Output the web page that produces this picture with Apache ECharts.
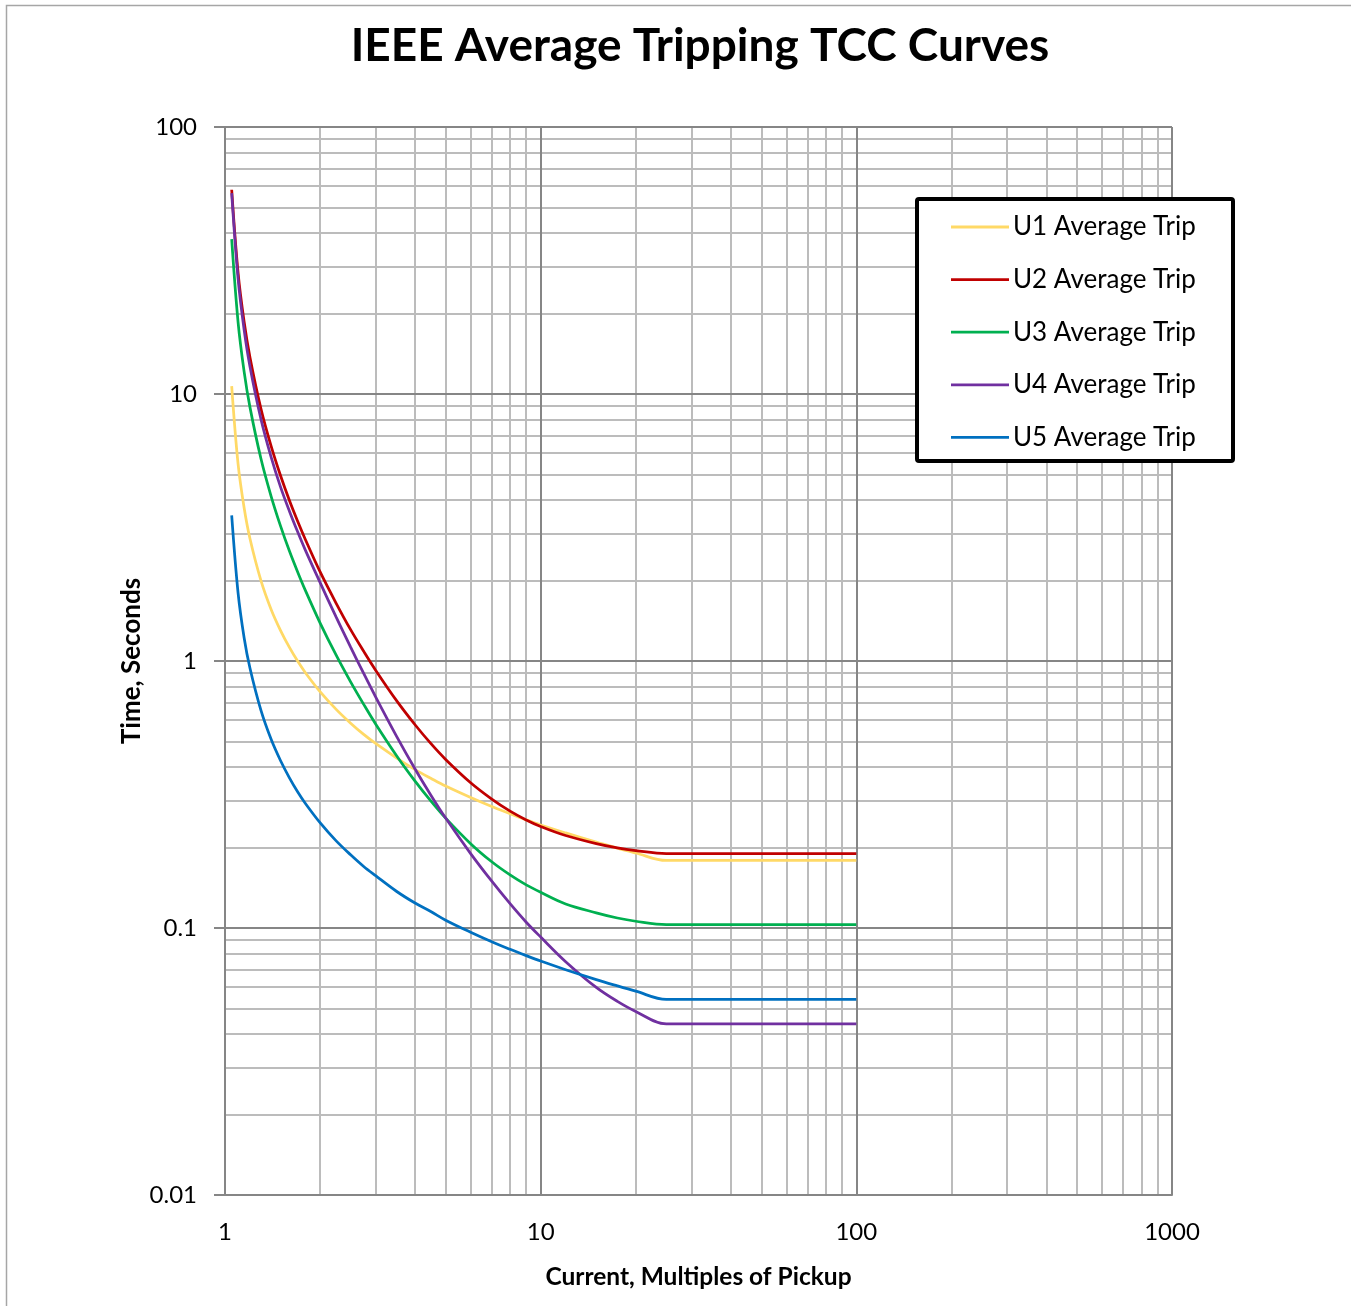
<!DOCTYPE html>
<html>
<head>
<meta charset="utf-8">
<script src="https://cdn.jsdelivr.net/npm/echarts@6/dist/echarts.min.js"></script>
<style>
  html, body { margin: 0; padding: 0; background: #fff; }
  #chart { width: 1351px; height: 1306px; }
</style>
</head>
<body>
<div id="chart"></div>
<script>
// Current, multiples of pickup
var multiples = [1.05, 1.1, 1.15, 1.2, 1.3, 1.4, 1.5, 1.6, 1.7, 1.8, 2, 2.25, 2.5, 2.75, 3, 3.5, 4, 4.5, 5, 6, 7, 8, 9, 10, 12, 15, 17.5, 20, 25, 100];
// Average trip time, seconds
var u1 = [10.7, 5.47, 3.74, 2.87, 2.00, 1.56, 1.30, 1.124, 0.997, 0.902, 0.768, 0.659, 0.585, 0.531, 0.491, 0.433, 0.392, 0.363, 0.340, 0.308, 0.285, 0.268, 0.254, 0.243, 0.227, 0.210, 0.199, 0.191, 0.179, 0.179];
var u2 = [58.2, 28.5, 18.6, 13.7, 8.80, 6.38, 4.94, 3.99, 3.33, 2.84, 2.16, 1.645, 1.31, 1.087, 0.924, 0.709, 0.577, 0.489, 0.428, 0.350, 0.304, 0.274, 0.254, 0.240, 0.222, 0.207, 0.1995, 0.195, 0.190, 0.190];
var u3 = [38.0, 18.6, 12.1, 8.91, 5.72, 4.14, 3.20, 2.58, 2.15, 1.83, 1.39, 1.051, 0.835, 0.688, 0.581, 0.441, 0.355, 0.298, 0.258, 0.207, 0.177, 0.158, 0.145, 0.136, 0.123, 0.114, 0.109, 0.106, 0.103, 0.103];
var u4 = [56.5, 27.06, 17.36, 12.66, 8.05, 5.80, 4.48, 3.64, 3.04, 2.59, 1.97, 1.459, 1.127, 0.898, 0.734, 0.521, 0.394, 0.313, 0.258, 0.190, 0.1497, 0.1233, 0.1051, 0.0925, 0.0748, 0.0599, 0.0531, 0.0487, 0.0437, 0.0437];
var u5 = [3.51, 1.80, 1.22, 0.939, 0.653, 0.509, 0.423, 0.365, 0.323, 0.292, 0.248, 0.212, 0.188, 0.170, 0.157, 0.137, 0.124, 0.115, 0.107, 0.0964, 0.0888, 0.0832, 0.0788, 0.0752, 0.0698, 0.0641, 0.0607, 0.058, 0.054, 0.054];

var seriesNames = ['U1 Average Trip', 'U2 Average Trip', 'U3 Average Trip', 'U4 Average Trip', 'U5 Average Trip'];
var seriesColors = ['#FFD966', '#C00000', '#00B050', '#7030A0', '#0070C0'];

// Axis ticks / gridlines
var xTickLabels = ['1', '10', '100', '1000'];
var yTickLabels = ['0.01', '0.1', '1', '10', '100'];
var xMajor = [1, 10, 100, 1000];
var yMajor = [0.01, 0.1, 1, 10, 100];
var xMinor = [2, 3, 4, 5, 6, 7, 8, 9, 20, 30, 40, 50, 60, 70, 80, 90, 200, 300, 400, 500, 600, 700, 800, 900];
var yMinor = [0.02, 0.03, 0.04, 0.05, 0.06, 0.07, 0.08, 0.09, 0.2, 0.3, 0.4, 0.5, 0.6, 0.7, 0.8, 0.9, 2, 3, 4, 5, 6, 7, 8, 9, 20, 30, 40, 50, 60, 70, 80, 90];

var allCurves = [u1, u2, u3, u4, u5];

function labelFor(v, values, labels) {
  for (var i = 0; i < values.length; i++) {
    if (Math.abs(Math.log10(v) - Math.log10(values[i])) < 1e-6) return labels[i];
  }
  return '';
}

function gridSeries(name, xs, ys, color, width, z) {
  var d = [];
  xs.forEach(function (v) { d.push({ xAxis: v }); });
  ys.forEach(function (v) { d.push({ yAxis: v }); });
  return {
    name: name, type: 'line', data: [], z: z, silent: true,
    markLine: {
      silent: true, symbol: ['none', 'none'], animation: false,
      label: { show: false },
      lineStyle: { color: color, width: width, type: 'solid' },
      emphasis: { disabled: true },
      data: d
    }
  };
}

var series = [
  gridSeries('minorGrid', xMinor, yMinor, '#bcbcbc', 2, 1),
  gridSeries('majorGrid', xMajor, yMajor, '#868686', 2, 2)
];
allCurves.forEach(function (arr, i) {
  series.push({
    name: seriesNames[i],
    type: 'line',
    symbol: 'none',
    showSymbol: false,
    z: 5,
    smooth: 0.35,
    animation: false,
    color: seriesColors[i],
    lineStyle: { color: seriesColors[i], width: 2.75 },
    data: multiples.map(function (m, j) { return [m, arr[j]]; })
  });
});

var FONT = 'Lato, "Open Sans", sans-serif';

// Legend box (graphic): frame, key samples, and labels as separate top-level elements
var LEG_X = 917, LEG_Y = 199, LEG_W = 316, LEG_H = 262, LEG_ROW0 = 28, LEG_ROW = 52.6;
var graphics = [{
  type: 'rect', silent: true, z: -10,
  shape: { x: 6.5, y: 5.5, width: 1500, height: 1500 },
  style: { fill: 'none', stroke: '#a6a6a6', lineWidth: 1.5 }
}, {
  type: 'rect', silent: true, z: 50,
  x: LEG_X, y: LEG_Y,
  shape: { x: 0, y: 0, width: LEG_W, height: LEG_H, r: 2 },
  style: { fill: '#fff', stroke: '#000', lineWidth: 4 }
}];
seriesNames.forEach(function (name, i) {
  var yc = LEG_Y + LEG_ROW0 + i * LEG_ROW;
  graphics.push({
    type: 'rect', silent: true, z: 60,
    x: LEG_X + 34, y: yc - 1.4,
    shape: { x: 0, y: 0, width: 58, height: 2.8 },
    style: { fill: seriesColors[i] }
  });
  graphics.push({
    type: 'text', silent: true, z: 100,
    x: LEG_X + 96, y: yc,
    style: {
      text: name, fill: '#000', backgroundColor: '#fff',
      font: '26px Lato', verticalAlign: 'middle', align: 'left'
    }
  });
});

var chart = echarts.init(document.getElementById('chart'), null, { renderer: 'canvas' });
chart.setOption({
  backgroundColor: '#ffffff',
  animation: false,
  graphic: graphics,
  title: {
    text: 'IEEE Average Tripping TCC Curves',
    left: 695, textAlign: 'center', top: 18,
    textStyle: { fontFamily: FONT, fontSize: 46, fontWeight: 'bold', color: '#000' }
  },
  grid: { left: 225, top: 127, right: 179, bottom: 111, containLabel: false },
  xAxis: {
    type: 'log', logBase: 10, min: 1, max: 1000,
    name: 'Current, Multiples of Pickup',
    nameLocation: 'middle', nameGap: 70,
    nameTextStyle: { fontFamily: FONT, fontSize: 24.5, fontWeight: 'bold', color: '#000' },
    axisLine: { show: true, lineStyle: { color: '#868686', width: 2 } },
    axisTick: { show: false },
    splitLine: { show: false },
    minorSplitLine: { show: false },
    axisLabel: {
      margin: 25, fontFamily: FONT, fontSize: 24, color: '#000',
      formatter: function (v) { return labelFor(v, xMajor, xTickLabels); }
    }
  },
  yAxis: {
    type: 'log', logBase: 10, min: 0.01, max: 100,
    name: 'Time, Seconds',
    nameLocation: 'middle', nameGap: 80, nameRotate: 90,
    nameMoveOverlap: false,
    nameTextStyle: { fontFamily: FONT, fontSize: 26, fontWeight: 'bold', color: '#000' },
    axisLine: { show: true, lineStyle: { color: '#868686', width: 2 } },
    axisTick: { show: true, inside: false, length: 11, lineStyle: { color: '#868686', width: 2 } },
    splitLine: { show: false },
    axisLabel: {
      margin: 28, fontFamily: FONT, fontSize: 24, color: '#000',
      formatter: function (v) { return labelFor(v, yMajor, yTickLabels); }
    }
  },
  series: series
});
</script>
</body>
</html>
